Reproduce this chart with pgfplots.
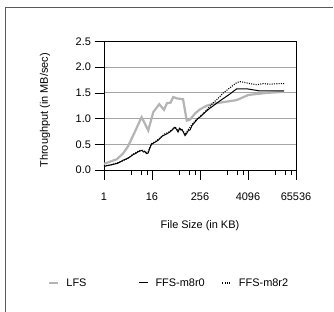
\documentclass[border=0pt]{standalone}
\usepackage{pgfplots}
\pgfplotsset{compat=1.18}
\usepackage{fontspec}
\setmainfont{Liberation Sans}
\definecolor{lfsgray}{RGB}{180,180,180}
\definecolor{gridgray}{RGB}{165,165,165}
\definecolor{framegray}{RGB}{90,90,90}
\begin{document}
\begin{tikzpicture}
\path[use as bounding box] (-104bp,-142bp) rectangle (230bp,170bp);
\draw[framegray, line width=0.9bp] (-99bp,-142bp) -- (-99bp,163bp) -- (229bp,163bp);
\begin{axis}[
  at={(0,0)}, anchor=origin,
  scale only axis, width=192bp, height=128.5bp,
  xmode=log, log basis x=2,
  xmin=1, xmax=65536, ymin=0, ymax=2.5,
  xtick={1,16,256,4096,65536},
  xticklabels={1,16,256,4096,65536},
  extra x ticks={5,8.5,12,80,136,192,1280,2176,3072,20480,34816,49152},
  extra x tick labels={},
  extra x tick style={major tick length=5bp, grid=none},
  ytick={0,0.5,1,1.5,2,2.5},
  xtick pos=bottom, ytick pos=left,
  tick align=outside,
  major tick length=9.5bp,
  every tick/.style={black, line width=0.8bp},
  axis line style={line width=0.8bp},
  ymajorgrids=true,
  major grid style={gridgray, line width=1bp},
  /pgf/number format/assume math mode=true,
  yticklabel style={/pgf/number format/.cd, fixed, fixed zerofill, precision=1},
  xticklabel style={yshift=-10bp},
  tick label style={font=\fontsize{11}{13}\selectfont},
  label style={font=\fontsize{11}{13}\selectfont},
  xlabel={File Size (in KB)},
  ylabel={Throughput (in MB/sec)},
  xlabel style={at={(axis description cs:0.5,-0.436)}, anchor=center},
  ylabel style={at={(axis description cs:-0.307,0.465)}, anchor=center},
  legend columns=3,
  legend style={at={(axis description cs:-0.307,-0.879)}, anchor=west, draw=none, fill=none,
    font=\fontsize{11}{13}\selectfont,
    /tikz/column 1/.style={column sep=5bp},
    /tikz/column 3/.style={column sep=5bp},
    /tikz/column 5/.style={column sep=5bp},
    /tikz/column 2/.style={column sep=50bp},
    /tikz/column 4/.style={column sep=15bp}},
  legend image code/.code={\draw[#1] (0bp,0bp) -- (9bp,0bp);},
]
\addplot[lfsgray, line width=2.2bp] coordinates {
(1,0.12) (2.1,0.21) (3,0.32) (4,0.46) (6,0.75) (8.8,1.03) (12.9,0.77) (17.3,1.13)
(24.4,1.28) (32,1.17) (38,1.30) (46.5,1.31) (54.8,1.42) (69,1.39) (96,1.38)
(119,0.96) (144,0.98) (192,1.10) (256,1.18) (377,1.25) (553,1.29) (983,1.32)
(2130,1.36) (4180,1.46) (12060,1.50) (32768,1.52)
};
\addlegendentry{LFS}
\addplot[black, line width=1bp] coordinates {
(1,0.07) (1.3,0.09) (1.7,0.11) (2.2,0.13) (2.6,0.16) (3.0,0.19) (3.5,0.21) (4.0,0.23)
(4.6,0.26) (5.4,0.30) (6.2,0.32) (7.0,0.35) (8.0,0.37) (9.0,0.38) (9.8,0.35) (10.6,0.36)
(11.6,0.32) (12.8,0.33) (14.0,0.42) (15.5,0.50) (18,0.53) (20,0.55) (23,0.58) (26,0.62)
(29,0.66) (33,0.68) (37,0.70) (41,0.72) (45,0.74) (50,0.77) (55,0.80) (60,0.83)
(66,0.79) (72,0.74) (78,0.81) (84,0.78) (90,0.79) (100,0.72) (108,0.67) (118,0.71)
(128,0.76) (144,0.78) (160,0.86) (176,0.90) (200,0.95) (226,1.00) (256,1.03) (300,1.08)
(377,1.15) (450,1.20) (553,1.25) (700,1.31) (983,1.39) (1450,1.48) (2130,1.58) (3800,1.58)
(5500,1.56) (7740,1.54) (20000,1.54) (32768,1.54)
};
\addlegendentry{FFS-m8r0}
\addplot[black, line width=1.1bp, dash pattern=on 1bp off 1.3bp] coordinates {
(1,0.08) (1.5,0.10) (2,0.13) (3,0.18) (4,0.23) (5.4,0.31) (7,0.36) (8.5,0.39)
(10,0.37) (11.6,0.34) (12.8,0.35) (15.5,0.51) (20,0.56) (26,0.63) (33,0.70) (41,0.73)
(50,0.78) (60,0.84) (72,0.76) (84,0.80) (100,0.74) (108,0.69) (128,0.78) (160,0.88)
(200,0.97) (256,1.04) (377,1.17) (553,1.31) (700,1.38) (983,1.50) (1450,1.60) (2130,1.70)
(2580,1.72) (3500,1.70) (4600,1.68) (6750,1.66) (9900,1.68) (14600,1.67) (25000,1.68) (32768,1.68)
};
\addlegendentry{FFS-m8r2}
\end{axis}
\end{tikzpicture}
\end{document}
